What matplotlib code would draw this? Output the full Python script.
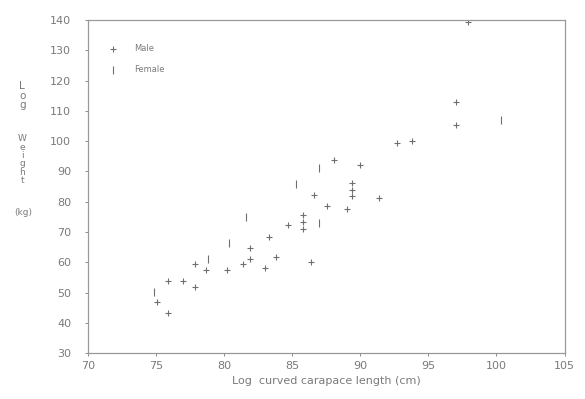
import matplotlib
matplotlib.use('Agg')
import matplotlib.pyplot as plt

# dados (comprimento curvo da carapaca x peso)
male_x = [75.1, 75.9, 75.9, 77.0, 77.9, 77.9, 78.7, 80.2, 81.4, 81.9, 81.9,
          83.0, 83.3, 83.8, 84.7, 85.8, 85.8, 85.8, 86.6, 87.6, 88.1, 86.4,
          90.0, 89.4, 89.4, 89.4, 91.4, 89.0, 92.7, 93.8, 97.9, 97.0, 97.0]
male_y = [46.8, 43.2, 53.8, 53.8, 59.4, 51.8, 57.4, 57.4, 59.4, 64.6, 61.0,
          58.0, 68.3, 61.7, 72.2, 75.5, 73.2, 70.9, 82.1, 78.5, 93.7, 60.0,
          92.0, 86.1, 83.8, 81.8, 81.2, 77.5, 99.5, 100.0, 139.2, 105.2, 112.8]
female_x = [74.9, 78.8, 80.4, 81.6, 85.3, 87.0, 87.0, 100.3]
female_y = [50.1, 61.0, 66.3, 74.9, 85.8, 91.1, 72.9, 106.9]

x_ticks = [70, 75, 80, 85, 90, 95, 100, 105]
y_ticks = [30, 40, 50, 60, 70, 80, 90, 100, 110, 120, 130, 140]

cinza = '#7a7a7a'

fig = plt.figure(figsize=(5.85, 3.99), dpi=100)
ax = fig.add_axes([0.150, 0.115, 0.815, 0.835])

ax.scatter(male_x, male_y, marker='+', s=20, linewidths=0.8,
           color='#6e6e6e', label='Male')
ax.scatter(female_x, female_y, marker='|', s=28, linewidths=0.8,
           color='#6e6e6e', label='Female')

ax.set_xlim(70, 105)
ax.set_ylim(30, 140)
ax.set_xticks(x_ticks)
ax.set_yticks(y_ticks)
ax.tick_params(colors=cinza, labelsize=8, length=2, width=0.6)
ax.tick_params(axis='y', pad=10)
for s in ax.spines.values():
    s.set_color('#999999')
    s.set_linewidth(0.9)

ax.set_xlabel('Log  curved carapace length (cm)', color=cinza, fontsize=8,
              labelpad=4)

# eixo y com letras empilhadas
fig.text(0.038, 0.76, 'L\no\ng', color=cinza, fontsize=7.5, ha='center',
         va='center', linespacing=0.95)
fig.text(0.038, 0.60, 'W\ne\ni\ng\nh\nt', color=cinza, fontsize=6.5,
         ha='center', va='center', linespacing=0.9)
fig.text(0.040, 0.468, '(kg)', color=cinza, fontsize=6.5, ha='center',
         va='center')

leg = ax.legend(loc='upper left', bbox_to_anchor=(0.02, 0.95), frameon=False,
                fontsize=6, handletextpad=1.5, labelspacing=1.4)
for t in leg.get_texts():
    t.set_color(cinza)

fig.savefig('out.png', dpi=100, facecolor='white')
